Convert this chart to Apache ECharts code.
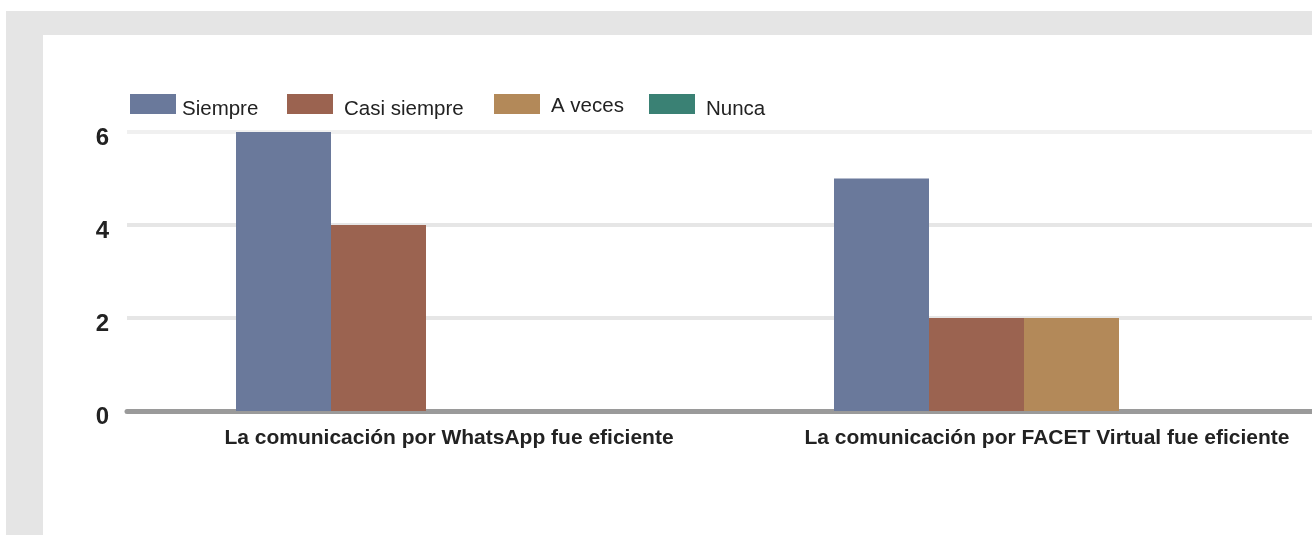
<!DOCTYPE html>
<html>
<head>
<meta charset="utf-8">
<script src="https://cdn.jsdelivr.net/npm/echarts@6/dist/echarts.min.js"></script>
<style>
  html, body { margin: 0; padding: 0; width: 1312px; height: 535px; overflow: hidden; background: #fff; }
  .outer { position: absolute; left: 6px; top: 11px; right: 0; bottom: 0; background: #e5e5e5; }
  .inner { position: absolute; left: 43px; top: 35px; right: 0; bottom: 0; background: #fff; }
  #chart { position: absolute; left: 0; top: 0; width: 1360px; height: 535px; }
</style>
</head>
<body>
<div class="outer"></div>
<div class="inner"></div>
<div id="chart"></div>
<script>
// datos
var categorias = ['La comunicación por WhatsApp fue eficiente', 'La comunicación por FACET Virtual fue eficiente'];
var nombres = ['Siempre', 'Casi siempre', 'A veces', 'Nunca'];
var siempre = [6, 5];
var casiSiempre = [4, 2];
var aVeces = [0, 2];
var nunca = [0, 0];
var ticksY = [0, 2, 4, 6];

var colores = ['#6a799b', '#9b6350', '#b38959', '#3a8174'];
var valores = [siempre, casiSiempre, aVeces, nunca];

var myChart = echarts.init(document.getElementById('chart'));

// una leyenda por item para poder ubicarlas como en la imagen
var legendPos = [
    { left: 130, pad: 1, padTop: 10 },
    { left: 287, pad: 6, padTop: 10 },
    { left: 494, pad: 6, padTop: 4 },
    { left: 649, pad: 6, padTop: 10 }
];
var legends = nombres.map(function (n, i) {
    return {
        data: [n],
        left: legendPos[i].left,
        top: 94,
        padding: 0,
        icon: 'rect',
        itemWidth: 46,
        itemHeight: 20,
        selectedMode: false,
        formatter: '{t|{name}}',
        textStyle: {
            rich: {
                t: {
                    fontFamily: 'Liberation Sans',
                    fontSize: 20.5,
                    color: '#222',
                    padding: [legendPos[i].padTop, 0, 0, legendPos[i].pad]
                }
            }
        }
    };
});

var series = nombres.map(function (n, i) {
    return {
        name: n,
        type: 'bar',
        data: valores[i],
        barWidth: 95,
        barGap: 0,
        itemStyle: { color: colores[i] },
        emphasis: { disabled: true }
    };
});

myChart.setOption({
    animation: false,
    legend: legends,
    grid: {
        left: 127,
        right: 1360 - 1323,
        top: 132,
        bottom: 535 - 411,
        containLabel: false
    },
    xAxis: {
        type: 'category',
        data: categorias,
        axisTick: { show: false },
        axisLine: { show: true, lineStyle: { color: '#9a9a9a', width: 5 } },
        axisLabel: {
            interval: 0,
            hideOverlap: false,
            margin: 17,
            fontFamily: 'Liberation Sans',
            fontWeight: 'bold',
            fontSize: 21,
            color: '#222',
            padding: [0, 0, 0, 46]
        }
    },
    yAxis: {
        type: 'value',
        min: ticksY[0],
        max: ticksY[ticksY.length - 1],
        interval: 2,
        axisLine: { show: false },
        axisTick: { show: false },
        splitLine: {
            lineStyle: { color: ['#e6e6e6', '#e6e6e6', '#e6e6e6', '#f0f0f0'], width: 4 }
        },
        axisLabel: {
            margin: 18,
            formatter: '{n|{value}}',
            rich: {
                n: {
                    fontFamily: 'Liberation Sans',
                    fontWeight: 'bold',
                    fontSize: 24,
                    color: '#222',
                    padding: [12, 0, 0, 0]
                }
            }
        }
    },
    series: series
});
</script>
</body>
</html>
